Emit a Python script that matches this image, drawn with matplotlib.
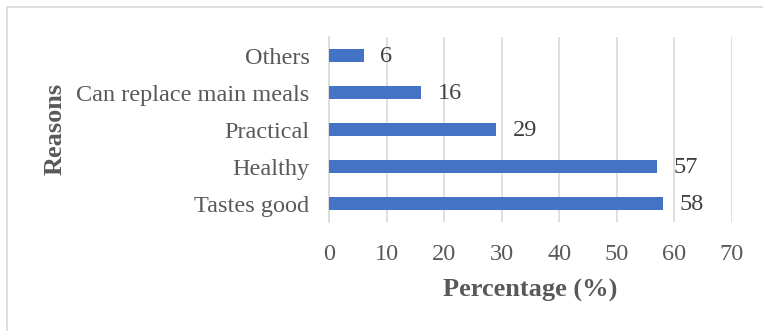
import matplotlib

matplotlib.use("Agg")
import matplotlib.pyplot as plt
from matplotlib.patches import Rectangle

reasons = ["Tastes good", "Healthy", "Practical", "Can replace main meals", "Others"]
percentages = [58, 57, 29, 16, 6]
x_ticks = [0, 10, 20, 30, 40, 50, 60, 70]

plt.rcParams["font.family"] = ["Liberation Serif", "DejaVu Serif"]
text_color = "#595959"

fig = plt.figure(figsize=(7.63, 3.31), dpi=100)
ax = fig.add_axes([0.4312, 0.329, 0.5278, 0.559])

ypos = range(len(reasons))
ax.barh(ypos, percentages, height=0.35, color="#4472C4", zorder=3)
for y, v in zip(ypos, percentages):
    ax.annotate(str(v), (v, y), xytext=(12, -1), textcoords="offset points",
                va="center", ha="left", fontsize=17.5, color="#404040")

ax.set_xlim(0, 70)
ax.set_ylim(-0.5, len(reasons) - 0.5)
ax.set_xticks(x_ticks)
ax.set_yticks(list(ypos))
ax.set_yticklabels(reasons)
ax.tick_params(axis="both", length=0, labelsize=17.5, labelcolor=text_color)
ax.tick_params(axis="x", pad=16)
ax.tick_params(axis="y", pad=14)
ax.grid(axis="x", color="#D9D9D9", linewidth=1.2, zorder=0)
for side in ["top", "right", "bottom"]:
    ax.spines[side].set_visible(False)
ax.spines["left"].set_color("#D9D9D9")
ax.spines["left"].set_linewidth(1.2)

ax.set_xlabel("Percentage (%)", fontsize=19, fontweight="bold", color=text_color, labelpad=10)
fig.text(0.072, 0.61, "Reasons", rotation=90, fontsize=19, fontweight="bold",
         color=text_color, ha="center", va="center")

# chart area border
fig.patches.append(Rectangle((7 / 763, -0.01), 1.1, (331 - 7) / 331 + 0.01, transform=fig.transFigure,
                             fill=False, edgecolor="#D9D9D9", linewidth=1.2))

fig.savefig("out.png", dpi=100)
